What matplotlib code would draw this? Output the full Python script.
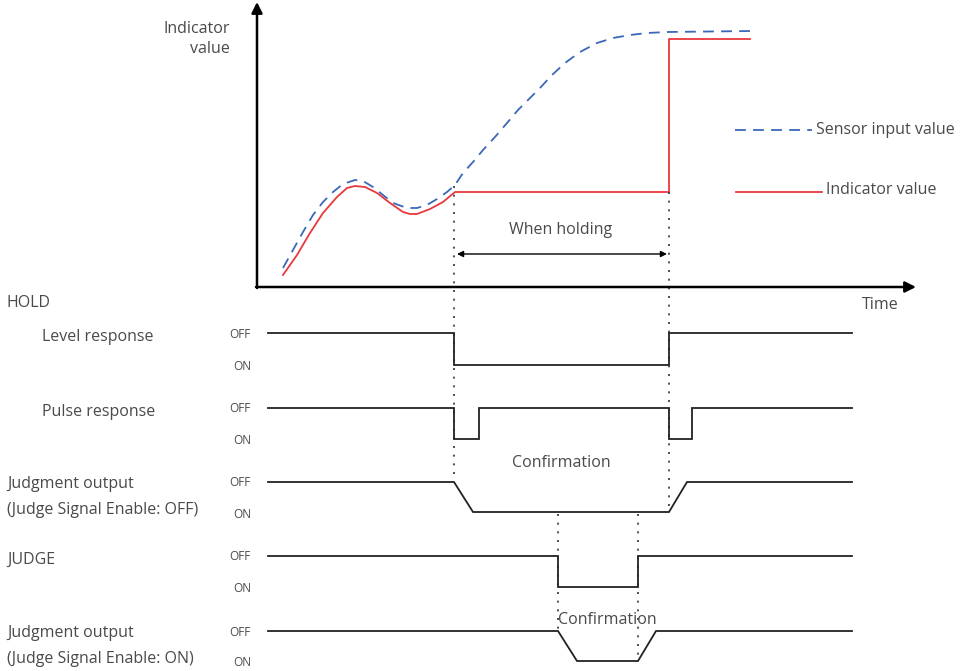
import matplotlib
matplotlib.use("Agg")
import matplotlib.pyplot as plt

plt.rcParams['font.family'] = ['Open Sans', 'DejaVu Sans']

# ---- data (pixel-like diagram coordinates) ----
sensor_x = [283, 293, 303, 313, 323, 333, 343, 355, 363, 373, 383, 393, 407, 417, 427, 437, 447, 455,
            463, 473, 483, 495, 507, 518, 530, 540, 552, 565, 580, 597, 613, 630, 647, 667, 752]
sensor_y = [268, 250, 232, 215, 202, 192, 184, 180, 181, 187, 195, 203, 208, 208, 205, 199, 192, 185,
            173, 162, 150, 137, 123, 110, 98, 88, 75, 63, 52, 43, 38, 35, 33, 32, 31]

indic_x = [283, 297, 310, 323, 337, 347, 355, 365, 377, 390, 403, 410, 417, 430, 443, 455, 669, 669, 750]
indic_y = [275, 255, 233, 213, 197, 188, 186, 187, 193, 203, 212, 214, 214, 209, 202, 192, 192, 39, 39]

hold_start = 454
hold_end = 669
judge_start = 558
judge_end = 638

row_labels = ["Level response", "Pulse response", "Judgment output\n(Judge Signal Enable: OFF)", "JUDGE",
              "Judgment output\n(Judge Signal Enable: ON)"]
row_off_y = [333, 408, 482, 556, 631]
row_on_y = [365, 439, 512, 587, 661]

# transitions: x positions and state (1=OFF, 0=ON)
level_x = [268, 454, 454, 669, 669, 852]
level_s = [1, 1, 0, 0, 1, 1]
pulse_x = [268, 454, 454, 479, 479, 669, 669, 692, 692, 852]
pulse_s = [1, 1, 0, 0, 1, 1, 0, 0, 1, 1]
jout1_x = [268, 454, 473, 669, 687, 852]
jout1_s = [1, 1, 0, 0, 1, 1]
judge_x = [268, 558, 558, 638, 638, 852]
judge_s = [1, 1, 0, 0, 1, 1]
jout2_x = [268, 558, 577, 638, 656, 852]
jout2_s = [1, 1, 0, 0, 1, 1]
signals = [(level_x, level_s), (pulse_x, pulse_s), (jout1_x, jout1_s), (judge_x, judge_s), (jout2_x, jout2_s)]

W, H = 969, 671
fig = plt.figure(figsize=(W / 100, H / 100), dpi=100)
ax = fig.add_axes([0, 0, 1, 1])
ax.set_xlim(0, W)
ax.set_ylim(H, 0)
ax.axis('off')

txt = '#4a4a4a'
FS = 11.5

# main axes with arrows
ax.annotate('', xy=(257, 2), xytext=(257, 288),
            arrowprops=dict(arrowstyle='-|>', color='black', lw=1.8, mutation_scale=16, shrinkA=0, shrinkB=0))
ax.annotate('', xy=(916, 287), xytext=(256, 287),
            arrowprops=dict(arrowstyle='-|>', color='black', lw=1.8, mutation_scale=16, shrinkA=0, shrinkB=0))
ax.text(230, 39, "Indicator\nvalue", ha='right', va='center', fontsize=FS, color=txt, linespacing=1.4)
ax.text(880, 305, "Time", ha='center', va='center', fontsize=FS, color=txt)

# curves
ax.plot(sensor_x, sensor_y, color='#3a68b8', lw=1.3, dashes=(6, 4), solid_joinstyle='round')
ax.plot(indic_x, indic_y, color='#e8383d', lw=1.3, solid_joinstyle='round')

# legend
ax.plot([735, 812], [130, 130], color='#3a68b8', lw=1.3, dashes=(6, 4))
ax.text(816, 130, "Sensor input value", ha='left', va='center', fontsize=FS, color=txt)
ax.plot([736, 822], [192, 192], color='#e8383d', lw=1.3)
ax.text(826, 190, "Indicator value", ha='left', va='center', fontsize=FS, color=txt)

# hold range
ax.text(561, 230, "When holding", ha='center', va='center', fontsize=FS, color=txt)
ax.annotate('', xy=(457, 254), xytext=(667, 254),
            arrowprops=dict(arrowstyle='<|-|>', color='black', lw=1.0, mutation_scale=9, shrinkA=0, shrinkB=0))

# dotted guide lines
dot = dict(color='#333333', lw=1.2, linestyle=(0, (1.2, 4)))
ax.plot([hold_start, hold_start], [186, 480], **dot)
ax.plot([hold_end, hold_end], [192, 510], **dot)
ax.plot([judge_start, judge_start], [514, 630], **dot)
ax.plot([judge_end, judge_end], [514, 660], **dot)

# timing rows
ax.text(7, 303, "HOLD", ha='left', va='center', fontsize=FS, color=txt)
label_x = [42, 42, 7, 7, 7]
for lab, lx, yo, yn, (sx, ss) in zip(row_labels, label_x, row_off_y, row_on_y, signals):
    ys = [yo if s == 1 else yn for s in ss]
    ax.plot(sx, ys, color='#222222', lw=1.3, solid_joinstyle='miter')
    ax.text(251, yo + 1, "OFF", ha='right', va='center', fontsize=8.5, color=txt)
    ax.text(251, yn + 2, "ON", ha='right', va='center', fontsize=8.5, color=txt)
    if '\n' in lab:
        l1, l2 = lab.split('\n')
        ax.text(lx, yo + 2, l1, ha='left', va='center', fontsize=FS, color=txt)
        ax.text(lx, yn - 2, l2, ha='left', va='center', fontsize=FS, color=txt)
    else:
        ax.text(lx, yo + 4, lab, ha='left', va='center', fontsize=FS, color=txt)

ax.text(561, 463, "Confirmation", ha='center', va='center', fontsize=FS, color=txt)
ax.text(607, 620, "Confirmation", ha='center', va='center', fontsize=FS, color=txt)

fig.savefig("out.png", dpi=100)
